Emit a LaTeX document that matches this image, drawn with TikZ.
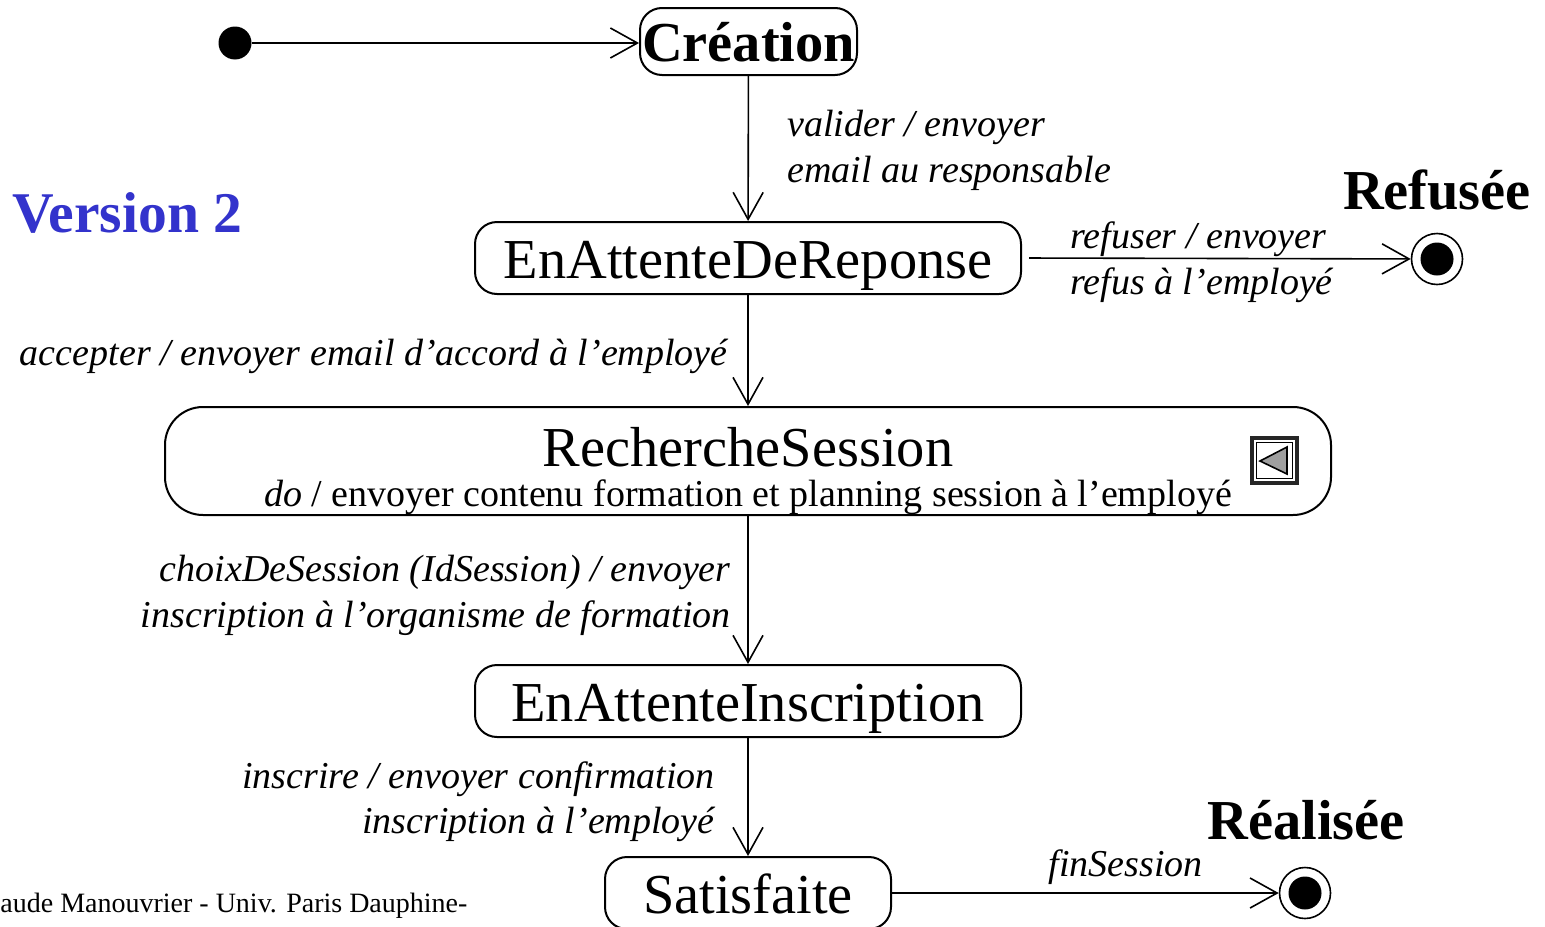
\documentclass[tikz,border=0pt]{standalone}
\usepackage{fontspec}
\setmainfont{Liberation Serif}
\usetikzlibrary{arrows.meta}

\definecolor{versionblue}{RGB}{51,51,204}

\tikzset{
    etat/.style={draw, line width=1pt, rounded corners=11pt, inner sep=0pt,
        text height=20pt, text depth=0pt, font=\fontsize{28.2}{32}\selectfont},
    trans/.style={line width=0.8pt, -{Straight Barb[length=13.5pt,width=15pt,line width=0.8pt]}},
    garde/.style={inner sep=0pt, font=\fontsize{19}{23}\selectfont\itshape},
    titre/.style={inner sep=0pt, font=\fontsize{28.2}{32}\selectfont\bfseries},
    initial/.style={circle, fill=black, inner sep=0pt, minimum size=16.5pt},
    final/.style={circle, draw, line width=0.8pt, inner sep=0pt, minimum size=25.5pt,
        path picture={\fill[black] (path picture bounding box.center) circle (8.25pt);}}
}

\begin{document}
\begin{tikzpicture}[x=0.5pt, y=-0.5pt]

    \useasboundingbox (0,0) rectangle (1545,926);
    \clip (0,0) rectangle (1545,926);

    % etats
    \node[initial] (init) at (235,43) {};
    \node[etat, minimum width=108.5pt, minimum height=33.5pt] (creation) at (748.5,41.5) {\bfseries Création};
    \node[etat, minimum width=273pt, minimum height=36pt] (attente) at (748,258) {EnAttenteDeReponse};
    \node[etat, rounded corners=19pt, minimum width=583pt, minimum height=54pt] (recherche) at (748,461) {};
    \node[anchor=base, inner sep=0pt, font=\fontsize{28.2}{32}\selectfont] (rechtitre) at (748,466) {RechercheSession};
    \node[anchor=base, inner sep=0pt, font=\fontsize{19}{23}\selectfont] (rechdo) at (748,506)
        {\textit{do} / envoyer contenu formation et planning session à l’employé};
    \node[etat, minimum width=273pt, minimum height=36pt] (inscr) at (748,701) {EnAttenteInscription};
    \node[etat, minimum width=143pt, minimum height=36pt] (satisf) at (748,893) {Satisfaite};
    \node[final] (refus) at (1437,259) {};
    \node[final] (realise) at (1305,893) {};

    % icone de l'activite
    \draw[line width=1.6pt, draw=black!85] (1252,438) rectangle (1297,483);
    \draw[line width=0.7pt] (1256.5,442.5) rectangle (1292.5,478.5);
    \draw[line width=0.8pt, fill=gray!75] (1260,461) -- (1287,447) -- (1287,474) -- cycle;

    % transitions
    \draw[trans] (init) -- (creation.west |- init);
    \draw[trans] (creation) -- (attente);
    \draw[trans] (attente) -- (recherche);
    \draw[trans] (recherche) -- (inscr);
    \draw[trans] (inscr) -- (satisf);
    \draw[trans, shorten <=3.5pt] (attente.east) -- (refus);
    \draw[trans] (satisf) -- (realise);

    \node[garde, anchor=base west] (valider1) at (787,136) {valider / envoyer};
    \node[garde, anchor=base west] (valider2) at (787,182) {email au responsable};
    \node[garde, anchor=base west] (refuser1) at (1070,248) {refuser / envoyer};
    \node[garde, anchor=base west] (refuser2) at (1070,294) {refus à l’employé};
    \node[garde, anchor=base east] (accepter) at (728,365) {accepter / envoyer email d’accord à l’employé};
    \node[garde, anchor=base east] (choix1) at (731,581) {choixDeSession (IdSession) / envoyer};
    \node[garde, anchor=base east] (choix2) at (731,627) {inscription à l’organisme de formation};
    \node[garde, anchor=base east] (inscrire1) at (715,788) {inscrire / envoyer confirmation};
    \node[garde, anchor=base east] (inscrire2) at (715,833) {inscription à l’employé};
    \node[garde, anchor=base east] (fin) at (1203,876) {finSession};

    \node[titre, anchor=base] (refusee) at (1437,209) {Refusée};
    \node[titre, anchor=base] (realisee) at (1306,839) {Réalisée};
    \node[titre, anchor=base west, text=versionblue, font=\fontsize{28.8}{32}\selectfont\bfseries] (version) at (12,232) {Version 2};

    \node[anchor=base west, inner sep=0pt, font=\fontsize{14}{16}\selectfont] (pied) at (0,912)
        {aude Manouvrier - Univ. Paris Dauphine-};

\end{tikzpicture}
\end{document}
